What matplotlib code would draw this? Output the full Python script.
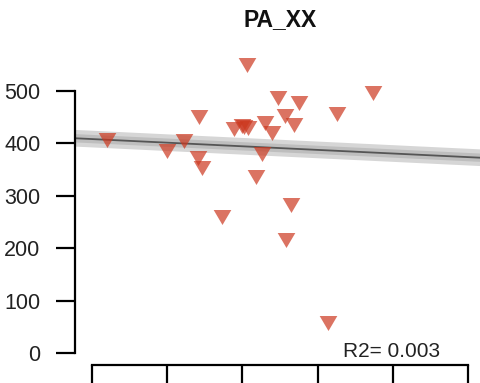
import numpy as np
import matplotlib
matplotlib.use("Agg")
import matplotlib.pyplot as plt

#------------------------------ data ------------------------------#

x_vals = [0.20, 1.00, 1.22, 1.42, 1.41, 1.46, 1.73, 2.06, 1.89, 1.99, 2.02, 2.07,
          2.18, 2.26, 2.30, 2.39, 2.47, 2.57, 2.69, 2.75, 2.65, 2.58, 3.26, 3.74, 3.14]
y_vals = [406, 385, 404, 450, 372, 352, 260, 548, 427, 433, 431, 429,
          335, 379, 439, 420, 486, 452, 435, 477, 283, 216, 456, 496, 58]

x_ticks = [0, 1, 2, 3, 4, 5]
y_ticks = [0, 100, 200, 300, 400, 500]

title = "PA_XX"
r2_label = "R2= 0.003"

#------------------------------ figure ------------------------------#

plt.rcParams['font.family'] = ['Liberation Sans', 'DejaVu Sans']
W, H = 481, 383
fig = plt.figure(figsize=(W / 100, H / 100), dpi=100)
ax = fig.add_axes([75 / W, (H - 365) / H, (487 - 75) / W, (365 - 55) / H])
ax.set_xlim(-0.226, 5.25)
ax.set_ylim(-22.5, 568)

# regression line
x = np.array(x_vals)
y = np.array(y_vals)
slope, intercept = np.polyfit(x, y, 1)
xl = np.array(ax.get_xlim())
yl = intercept + slope * xl
ax.plot(xl, yl, color="#999999", lw=12, alpha=0.4, solid_capstyle="butt", zorder=1)
ax.plot(xl, yl, color="#888888", lw=6, alpha=0.3, solid_capstyle="butt", zorder=1)
ax.plot(xl, yl, color="#555555", lw=1.3, zorder=2)

# points
tri = [(-1, 0.85), (1, 0.85), (0, -0.85), (-1, 0.85)]
ax.plot(x, y, linestyle="none", marker=tri, markersize=12.7,
        color=(0.80, 0.22, 0.12), alpha=0.7, markeredgewidth=0, zorder=3)

# axes in R style
for s in ["top", "right"]:
    ax.spines[s].set_visible(False)
ax.spines["left"].set_bounds(0, 500)
ax.spines["bottom"].set_bounds(0, 5)
ax.spines["left"].set_linewidth(1.6)
ax.spines["bottom"].set_linewidth(1.6)
ax.set_yticks(y_ticks)
ax.set_xticks(x_ticks)
ax.set_xticklabels([])
ax.tick_params(axis="y", length=14, width=1.6, pad=11, labelsize=15.5, labelcolor="#222222")
ax.tick_params(axis="x", length=20, width=1.6)

fig.text(280 / W, 1 - 20 / H, title, ha="center", va="center",
         fontsize=16.5, fontweight="bold", color="#111111")
fig.text(440 / W, (H - 357) / H, r2_label, ha="right", va="baseline",
         fontsize=15, color="#222222")

fig.savefig("out.png", dpi=100)
